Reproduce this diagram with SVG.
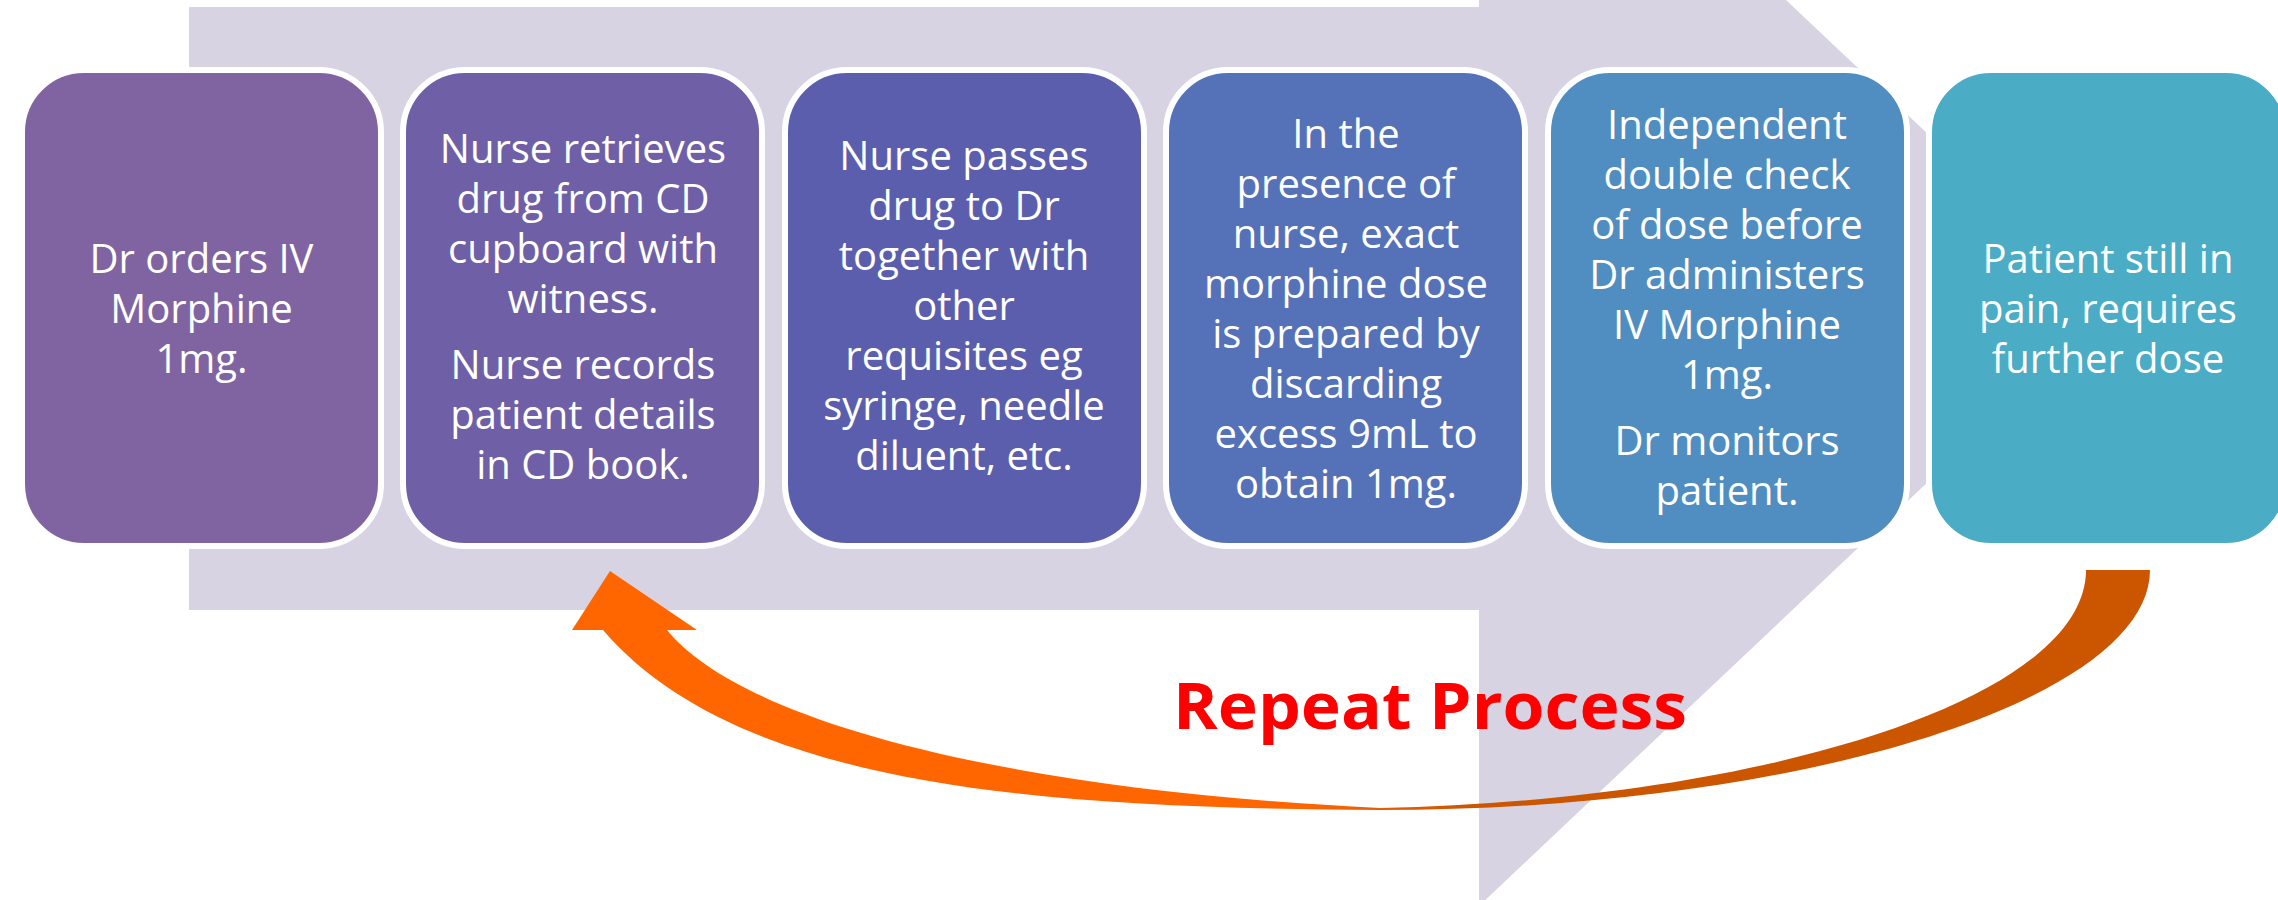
<svg xmlns="http://www.w3.org/2000/svg" width="2278" height="900" viewBox="0 0 2278 900">
  <defs>
    <style>
      .box { stroke: #FFFFFF; stroke-width: 6; }
      .t { font-family: "Open Sans", "Liberation Sans", sans-serif; font-size: 40px; fill: #FFFFFF; text-anchor: middle; }
      .lbl { font-family: "Open Sans", "Liberation Sans", sans-serif; font-size: 65px; font-weight: bold; fill: #FF0000; }
    </style>
    <linearGradient id="arrowGrad" gradientUnits="userSpaceOnUse" x1="1300" y1="0" x2="1470" y2="0">
      <stop offset="0" stop-color="#FF6600"/>
      <stop offset="1" stop-color="#CC5500"/>
    </linearGradient>
  </defs>
  <rect x="0" y="0" width="2278" height="900" fill="#FFFFFF"/>

  <!-- background process arrow -->
  <path id="bg-arrow" d="M189,7 H1479 V-290 L2112,308 L1479,906 V610 H189 Z" fill="#D7D3E2"/>

  <g id="node1">
    <rect class="box" x="22" y="70" width="359" height="476" rx="62" fill="#8064A2"/>
    <text class="t"><tspan x="201.5" y="273">Dr orders IV</tspan><tspan x="201.5" y="323">Morphine</tspan><tspan x="201.5" y="373">1mg.</tspan></text>
  </g>
  <g id="node2">
    <rect class="box" x="403" y="70" width="359" height="476" rx="62" fill="#6E5FA7"/>
    <text class="t"><tspan x="583" y="163">Nurse retrieves</tspan><tspan x="583" y="213">drug from CD</tspan><tspan x="583" y="263">cupboard with</tspan><tspan x="583" y="313">witness.</tspan><tspan x="583" y="379">Nurse records</tspan><tspan x="583" y="429">patient details</tspan><tspan x="583" y="479">in CD book.</tspan></text>
  </g>
  <g id="node3">
    <rect class="box" x="785" y="70" width="359" height="476" rx="62" fill="#5A5EAD"/>
    <text class="t"><tspan x="964" y="170">Nurse passes</tspan><tspan x="964" y="220">drug to Dr</tspan><tspan x="964" y="270">together with</tspan><tspan x="964" y="320">other</tspan><tspan x="964" y="370">requisites eg</tspan><tspan x="964" y="420">syringe, needle</tspan><tspan x="964" y="470">diluent, etc.</tspan></text>
  </g>
  <g id="node4">
    <rect class="box" x="1166" y="70" width="359" height="476" rx="62" fill="#5571B8"/>
    <text class="t"><tspan x="1346" y="148">In the</tspan><tspan x="1346" y="198">presence of</tspan><tspan x="1346" y="248">nurse, exact</tspan><tspan x="1346" y="298">morphine dose</tspan><tspan x="1346" y="348">is prepared by</tspan><tspan x="1346" y="398">discarding</tspan><tspan x="1346" y="448">excess 9mL to</tspan><tspan x="1346" y="498">obtain 1mg.</tspan></text>
  </g>
  <g id="node5">
    <rect class="box" x="1548" y="70" width="359" height="476" rx="62" fill="#508DC0"/>
    <text class="t"><tspan x="1727" y="139">Independent</tspan><tspan x="1727" y="189">double check</tspan><tspan x="1727" y="239">of dose before</tspan><tspan x="1727" y="289">Dr administers</tspan><tspan x="1727" y="339">IV Morphine</tspan><tspan x="1727" y="389">1mg.</tspan><tspan x="1727" y="455">Dr monitors</tspan><tspan x="1727" y="505">patient.</tspan></text>
  </g>
  <g id="node6">
    <rect class="box" x="1929" y="70" width="359" height="476" rx="62" fill="#4BACC6"/>
    <text class="t"><tspan x="2108" y="273">Patient still in</tspan><tspan x="2108" y="323">pain, requires</tspan><tspan x="2108" y="373">further dose</tspan></text>
  </g>

  <g id="connectors">
    <path id="repeat-arrow" d="M2150,570 C2150,700 1800,810 1380,810 C1050,808 740,790 603,630 L572,630 L610,571 L697,630 L667,630 C740,720 1000,790 1380,808 C1760,800 2086,700 2086,570 Z" fill="url(#arrowGrad)"/>
  </g>

  <g id="label">
    <text class="lbl" x="1173" y="729" textLength="514" lengthAdjust="spacingAndGlyphs">Repeat Process</text>
  </g>
</svg>
